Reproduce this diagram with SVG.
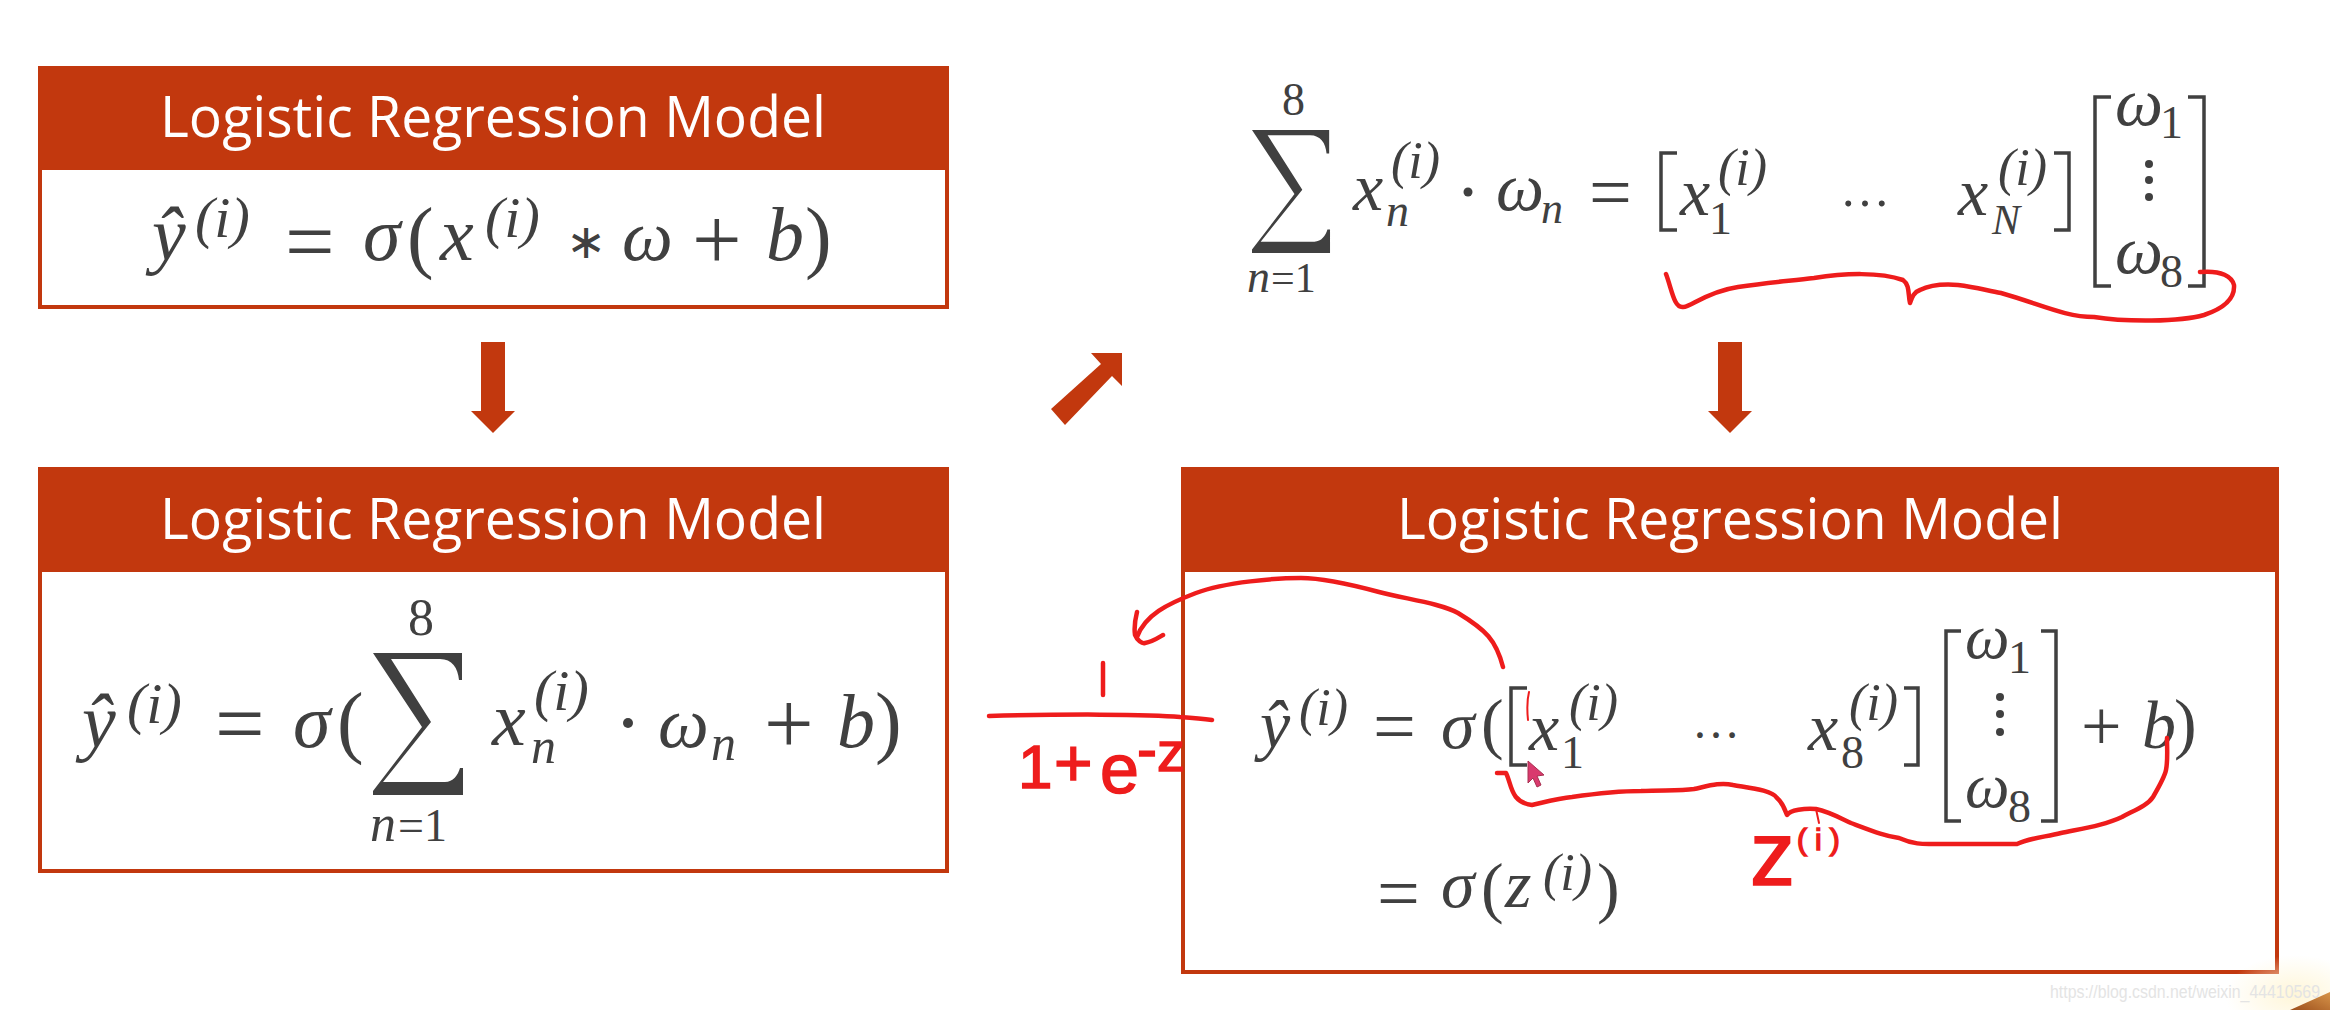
<svg xmlns="http://www.w3.org/2000/svg" width="2330" height="1010" viewBox="0 0 2330 1010">
<defs>
<path id="sigma" d="M373 653H462V680H459C458 668 452 659 440 659H391L431 722L383 782H445C453 782 458 775 460 768H463V795H373V791L422 727Z"/>
<radialGradient id="glow"><stop offset="0" stop-color="#fff6d8"/><stop offset="1" stop-color="#fff6d8" stop-opacity="0"/></radialGradient>
<linearGradient id="corner" x1="0" y1="1" x2="1" y2="0"><stop offset="0" stop-color="#9c4f1c"/><stop offset="1" stop-color="#d8954a"/></linearGradient>
</defs>
<style>
.box{fill:#fff;stroke:#c2380e;stroke-width:4}
.hd{fill:#c2380e}
.t{font:56px "Open Sans","Noto Sans",sans-serif;fill:#fff;text-anchor:middle}
.m{font-family:"Liberation Serif",serif;fill:#404040}
.i{font-style:italic}
.p{fill:none;stroke:#404040;stroke-width:3.5}
.arr{fill:#c2380e}
.ink{fill:none;stroke:#ee1c1c;stroke-width:4.5;stroke-linecap:round;stroke-linejoin:round}
.hw{font-family:"Liberation Sans",sans-serif;fill:#ee1c1c;stroke:#ee1c1c;stroke-width:1.5}
</style>
<rect width="2330" height="1010" fill="#fff"/>
<g id="box1">
<rect class="box" x="40" y="68" width="907" height="239"/>
<rect class="hd" x="38" y="66" width="911" height="104"/>
<text class="t" x="493" y="137" textLength="666" lengthAdjust="spacingAndGlyphs">Logistic Regression Model</text>
<text class="m i" font-size="76" x="152" y="260">ŷ</text>
<text class="m i" font-size="58" x="195" y="237">(i)</text>
<text class="m" font-size="88" x="285" y="271">=</text>
<text class="m i" font-size="76" x="363" y="260">σ</text>
<text class="m" font-size="80" x="407" y="263">(</text>
<text class="m i" font-size="76" x="440" y="260">x</text>
<text class="m i" font-size="58" x="485" y="237">(i)</text>
<text class="m" font-size="48" x="566" y="258">∗</text>
<text class="m i" font-size="72" x="622" y="260">ω</text>
<text class="m" font-size="88" x="692" y="269">+</text>
<text class="m i" font-size="76" x="766" y="260">b</text>
<text class="m" font-size="80" x="805" y="263">)</text>
</g>
<g id="box2">
<rect class="box" x="40" y="469" width="907" height="402"/>
<rect class="hd" x="38" y="467" width="911" height="105"/>
<text class="t" x="493" y="539" textLength="666" lengthAdjust="spacingAndGlyphs">Logistic Regression Model</text>
<text class="m i" font-size="76" x="82" y="747">ŷ</text>
<text class="m i" font-size="58" x="127" y="723">(i)</text>
<text class="m" font-size="88" x="215" y="753">=</text>
<text class="m i" font-size="76" x="293" y="747">σ</text>
<text class="m" font-size="80" x="337" y="748">(</text>
<use href="#sigma" class="m"/>
<text class="m" font-size="52" x="408" y="635">8</text>
<text class="m i" font-size="52" x="370" y="841">n</text>
<text class="m" font-size="46" x="398" y="841">=1</text>
<text class="m i" font-size="76" x="492" y="745">x</text>
<text class="m i" font-size="50" x="531" y="763">n</text>
<text class="m i" font-size="58" x="534" y="710">(i)</text>
<circle class="m" cx="628" cy="723" r="5"/>
<text class="m i" font-size="72" x="658" y="747">ω</text>
<text class="m i" font-size="50" x="711" y="760">n</text>
<text class="m" font-size="88" x="764" y="753">+</text>
<text class="m i" font-size="76" x="837" y="747">b</text>
<text class="m" font-size="80" x="875" y="748">)</text>
</g>
<g id="sumformula">
<text class="m" font-size="46" x="1282" y="115">8</text>
<use href="#sigma" class="m" transform="translate(1252 130) scale(.867 .866) translate(-373 -653)"/>
<text class="m i" font-size="46" x="1247" y="292">n</text>
<text class="m" font-size="42" x="1271" y="292">=1</text>
<text class="m i" font-size="68" x="1353" y="210">x</text>
<text class="m i" font-size="52" x="1391" y="178">(i)</text>
<text class="m i" font-size="46" x="1386" y="226">n</text>
<circle class="m" cx="1468" cy="192" r="4.5"/>
<text class="m i" font-size="68" x="1496" y="210">ω</text>
<text class="m i" font-size="44" x="1541" y="223">n</text>
<text class="m" font-size="76" x="1589" y="218">=</text>
<path class="p" d="M1677 153H1661V230H1677"/>
<text class="m i" font-size="68" x="1680" y="215">x</text>
<text class="m" font-size="46" x="1709" y="234">1</text>
<text class="m i" font-size="52" x="1718" y="185">(i)</text>
<text class="m" font-size="50" x="1840" y="206">…</text>
<text class="m i" font-size="68" x="1958" y="215">x</text>
<text class="m i" font-size="42" x="1992" y="234">N</text>
<text class="m i" font-size="52" x="1998" y="185">(i)</text>
<path class="p" d="M2054 153H2069V230H2054"/>
<path class="p" d="M2111 97H2095V286H2111"/>
<text class="m i" font-size="68" x="2115" y="125">ω</text>
<text class="m" font-size="46" x="2160" y="138">1</text>
<g class="m"><circle cx="2149" cy="164" r="4"/><circle cx="2149" cy="180" r="4"/><circle cx="2149" cy="197" r="4"/></g>
<text class="m i" font-size="68" x="2115" y="273">ω</text>
<text class="m" font-size="46" x="2160" y="287">8</text>
<path class="p" d="M2188 97H2204V286H2188"/>
</g>
<g id="box3">
<rect class="box" x="1183" y="469" width="1094" height="503"/>
<rect class="hd" x="1181" y="467" width="1098" height="105"/>
<text class="t" x="1730" y="539" textLength="666" lengthAdjust="spacingAndGlyphs">Logistic Regression Model</text>
<text class="m i" font-size="68" x="1260" y="748">ŷ</text>
<text class="m i" font-size="52" x="1299" y="725">(i)</text>
<text class="m" font-size="76" x="1373" y="752">=</text>
<text class="m i" font-size="68" x="1441" y="748">σ</text>
<text class="m" font-size="68" x="1481" y="746">(</text>
<path class="p" d="M1527 688H1511V765H1527"/>
<text class="m i" font-size="68" x="1529" y="750">x</text>
<text class="m" font-size="46" x="1561" y="768">1</text>
<text class="m i" font-size="52" x="1569" y="720">(i)</text>
<text class="m" font-size="48" x="1692" y="738">…</text>
<text class="m i" font-size="68" x="1808" y="750">x</text>
<text class="m" font-size="46" x="1841" y="768">8</text>
<text class="m i" font-size="52" x="1849" y="720">(i)</text>
<path class="p" d="M1904 688H1918V765H1904"/>
<path class="p" d="M1961 631H1946V821H1961"/>
<text class="m i" font-size="63" x="1965" y="658">ω</text>
<text class="m" font-size="46" x="2008" y="673">1</text>
<g class="m"><circle cx="2000" cy="697" r="4"/><circle cx="2000" cy="714" r="4"/><circle cx="2000" cy="732" r="4"/></g>
<text class="m i" font-size="63" x="1965" y="807">ω</text>
<text class="m" font-size="46" x="2008" y="822">8</text>
<path class="p" d="M2041 631H2056V821H2041"/>
<text class="m" font-size="72" x="2081" y="750">+</text>
<text class="m i" font-size="68" x="2142" y="748">b</text>
<text class="m" font-size="68" x="2174" y="746">)</text>
<text class="m" font-size="76" x="1377" y="919">=</text>
<text class="m i" font-size="68" x="1441" y="907">σ</text>
<text class="m" font-size="68" x="1481" y="910">(</text>
<text class="m i" font-size="68" x="1505" y="907">z</text>
<text class="m i" font-size="52" x="1543" y="890">(i)</text>
<text class="m" font-size="68" x="1597" y="910">)</text>
</g>
<g id="connectors">
<path class="arr" d="M481 342H505V411H515L493 433L471 411H481Z"/>
<path class="arr" d="M1718 342H1742V411H1752L1730 433L1708 411H1718Z"/>
<path class="arr" d="M1122 353H1091L1101 364L1051 409L1065 425L1112 376L1122 386Z"/>
</g>
<g id="annotations">
<path class="ink" d="M1666 274C1672 290 1674 308 1683 307C1690 308 1705 292 1738 287C1770 282 1790 281 1814 278C1845 273 1880 272 1903 280C1910 285 1908 295 1910 303C1912 297 1914 292 1920 290C1932 284 1945 284 1958 285C1975 287 1985 290 2001 293C2040 304 2065 317 2094 317C2125 322 2180 322 2204 315C2225 308 2235 298 2234 285C2232 277 2222 270 2200 272"/>
<path class="ink" d="M1503 667C1496 640 1486 630 1458 613C1440 603 1405 599 1379 592S1325 578 1301 578S1225 582 1196 593S1145 615 1137 637M1137 612C1135 620 1134 628 1135 635C1137 640 1142 644 1145 643C1152 642 1158 638 1163 635"/>
<path class="ink" d="M1103 663V695"/>
<path class="ink" d="M989 716C1060 714 1150 714 1180 717C1195 718 1205 719 1212 720"/>
<path class="ink" d="M1497 773H1506C1512 785 1510 802 1532 805C1545 802 1560 798 1572 797C1600 793 1620 791 1641 791C1665 790 1680 791 1694 789C1708 786 1720 782 1733 785C1750 788 1772 790 1777 798C1783 803 1785 810 1787 815C1790 810 1805 808 1816 809C1830 812 1840 818 1851 823C1875 832 1885 836 1899 838C1915 845 1925 844 1934 844H2017C2030 838 2045 837 2061 833C2085 828 2105 825 2122 817C2135 810 2148 805 2153 797C2160 785 2165 775 2166 770C2168 760 2167 750 2167 738"/>
<path class="ink" style="stroke-width:2" d="M1529 692C1527 700 1527 710 1528 720M1816 809L1819 823"/>
<text class="hw"><tspan x="1018" y="788" font-size="62">1</tspan><tspan x="1054" y="786" font-size="66">+</tspan><tspan x="1100" y="793" font-size="70">e</tspan><tspan x="1137" y="769" font-size="60">-</tspan><tspan x="1157" y="771" font-size="56">z</tspan></text>
<text class="hw"><tspan x="1750" y="885" font-size="90">z</tspan><tspan x="1797" y="850" font-size="30" letter-spacing="8">(i)</tspan></text>
<path fill="#d93a6e" stroke="#a83050" stroke-width="1" d="M1528 761V783L1533 778L1537 787L1541 785L1537 776L1544 775Z"/>
</g>
<g id="watermark">
<ellipse cx="2295" cy="995" rx="70" ry="40" fill="url(#glow)"/>
<text transform="translate(2050 998) scale(1 1.25)" x="0" y="0" font-family="Liberation Sans, sans-serif" font-size="15" fill="#e4e4e4" textLength="270" lengthAdjust="spacingAndGlyphs">https://blog.csdn.net/weixin_44410569</text>
<path d="M2330 992V1010H2290Z" fill="url(#corner)"/>
</g>
</svg>
